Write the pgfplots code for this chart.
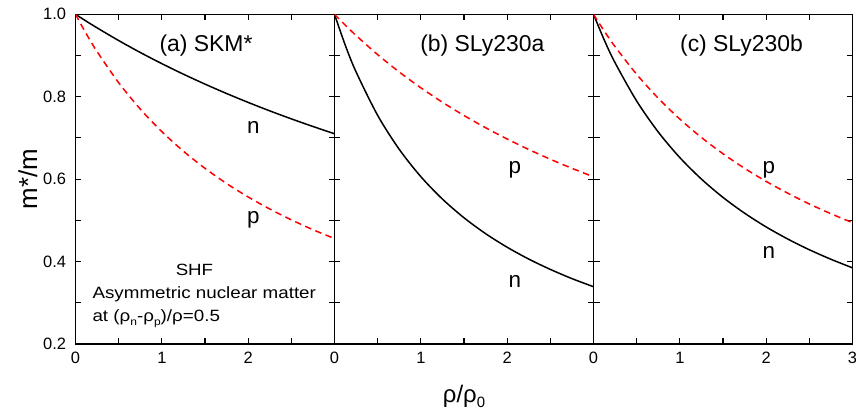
\documentclass[border=0pt]{standalone}
\usepackage{fontspec}
\setmainfont{Liberation Sans}
\newfontfamily\widesf{Liberation Sans}[FakeStretch=1.15]
\usepackage{pgfplots}
\pgfplotsset{compat=1.18}
\usepgfplotslibrary{groupplots}
\newcommand\sub[1]{\raisebox{-0.45ex}{\fontsize{10.5}{10.5}\selectfont #1}}
\newcommand\subx[1]{\raisebox{-0.4ex}{\fontsize{15}{15}\selectfont #1}}
\newcommand\tickfont{\fontsize{16.5}{18}\selectfont}
\begin{document}
\begin{tikzpicture}
\begin{groupplot}[
  group style={group size=3 by 1, horizontal sep=0pt, group name=G},
  scale only axis, width=259bp, height=329.7bp,
  xmin=0, xmax=3, ymin=0.2, ymax=1.0,
  ytick={0.2,0.4,0.6,0.8,1.0}, minor ytick={0.3,0.5,0.7,0.9},
  xtick={0,1,2}, minor xtick={0.5,1.5,2.5},
  tick align=inside, xtick pos=both, ytick pos=both,
  major tick length=6bp, minor tick length=6bp,
  every tick/.style={black, line width=1.1bp},
  axis line style={line width=1.3bp},
  /pgf/number format/assume math mode=true,
  yticklabel style={font=\tickfont, xshift=-6bp, /pgf/number format/.cd, fixed, fixed zerofill, precision=1},
  xticklabel style={font=\tickfont, yshift=-5bp, /pgf/number format/.cd, fixed, precision=0},
  nplot/.style={black, line width=1.5bp, smooth, no marks},
  pplot/.style={red, line width=1.5bp, dash pattern=on 6.5bp off 4.5bp, smooth, no marks},
]
% (a) SKM*
\nextgroupplot[ylabel={m*/m}, ylabel style={font=\fontsize{26}{28}\selectfont, yshift=-1bp}]
\addplot[nplot] coordinates {(0,1.0) (0.125,0.9833) (0.25,0.9671) (0.5,0.9363) (0.75,0.9074) (1,0.8803) (1.25,0.8547) (1.5,0.8306) (1.75,0.8078) (2,0.7862) (2.25,0.7657) (2.5,0.7463) (2.75,0.7278) (3,0.7102)};
\addplot[pplot] coordinates {(0,1.0) (0.125,0.9526) (0.25,0.9095) (0.5,0.8340) (0.75,0.7701) (1,0.7153) (1.25,0.6678) (1.5,0.6262) (1.75,0.5894) (2,0.5568) (2.25,0.5276) (2.5,0.5013) (2.75,0.4774) (3,0.4558)};
\node[font=\fontsize{23}{24}\selectfont, anchor=base west, inner sep=0pt] at (axis cs:0.971,0.909) {(a) SKM*};
\node[font=\fontsize{22.5}{24}\selectfont, anchor=base] at (axis cs:2.06,0.711) {n};
\node[font=\fontsize{22.5}{24}\selectfont, anchor=base] at (axis cs:2.06,0.493) {p};
\node[font=\widesf\fontsize{16.3}{18}\selectfont, anchor=base] at (axis cs:1.378,0.367) {SHF};
\node[font=\widesf\fontsize{16.4}{18}\selectfont, anchor=base west, inner sep=0pt] at (axis cs:0.195,0.310) {Asymmetric nuclear matter};
\node[font=\widesf\fontsize{16.4}{18}\selectfont, anchor=base west, inner sep=0pt] at (axis cs:0.195,0.254) {at (ρ\sub{n}-ρ\sub{p})/ρ=0.5};
% (b) SLy230a
\nextgroupplot[yticklabels={}, xlabel={ρ/ρ\subx{0}}, xlabel style={font=\fontsize{24}{26}\selectfont, yshift=-14bp}]
\addplot[nplot] coordinates {(0,1.0) (0.125,0.9249) (0.25,0.8602) (0.5,0.7547) (0.75,0.6723) (1,0.6061) (1.25,0.5517) (1.5,0.5063) (1.75,0.4678) (2,0.4348) (2.25,0.4061) (2.5,0.3810) (2.75,0.3587) (3,0.3390)};
\addplot[pplot] coordinates {(0,1.0) (0.125,0.9736) (0.25,0.9485) (0.5,0.9021) (0.75,0.8600) (1,0.8217) (1.25,0.7866) (1.5,0.7544) (1.75,0.7248) (2,0.6974) (2.25,0.6719) (2.5,0.6483) (2.75,0.6263) (3,0.6057)};
\node[font=\fontsize{23}{24}\selectfont, anchor=base west, inner sep=0pt] at (axis cs:0.992,0.909) {(b) SLy230a};
\node[font=\fontsize{22.5}{24}\selectfont, anchor=base] at (axis cs:2.09,0.614) {p};
\node[font=\fontsize{22.5}{24}\selectfont, anchor=base] at (axis cs:2.09,0.337) {n};
% (c) SLy230b
\nextgroupplot[yticklabels={}, xtick={0,1,2,3}]
\addplot[nplot] coordinates {(0,1.0) (0.125,0.9375) (0.25,0.8824) (0.5,0.7896) (0.75,0.7144) (1,0.6523) (1.25,0.6002) (1.5,0.5557) (1.75,0.5174) (2,0.4840) (2.25,0.4547) (2.5,0.4287) (2.75,0.4056) (3,0.3848)};
\addplot[pplot] coordinates {(0,1.0) (0.125,0.9591) (0.25,0.9214) (0.5,0.8543) (0.75,0.7963) (1,0.7457) (1.25,0.7011) (1.5,0.6616) (1.75,0.6263) (2,0.5945) (2.25,0.5659) (2.5,0.5398) (2.75,0.5161) (3,0.4943)};
\node[font=\fontsize{23}{24}\selectfont, anchor=base west, inner sep=0pt] at (axis cs:1.001,0.909) {(c) SLy230b};
\node[font=\fontsize{22.5}{24}\selectfont, anchor=base] at (axis cs:2.03,0.614) {p};
\node[font=\fontsize{22.5}{24}\selectfont, anchor=base] at (axis cs:2.03,0.408) {n};
\end{groupplot}
\pgfresetboundingbox
\path[use as bounding box] ([xshift=-75.5bp,yshift=-68bp]G c1r1.south west) rectangle ([xshift=780.5bp,yshift=14.3bp]G c1r1.north west);
\end{tikzpicture}
\end{document}
